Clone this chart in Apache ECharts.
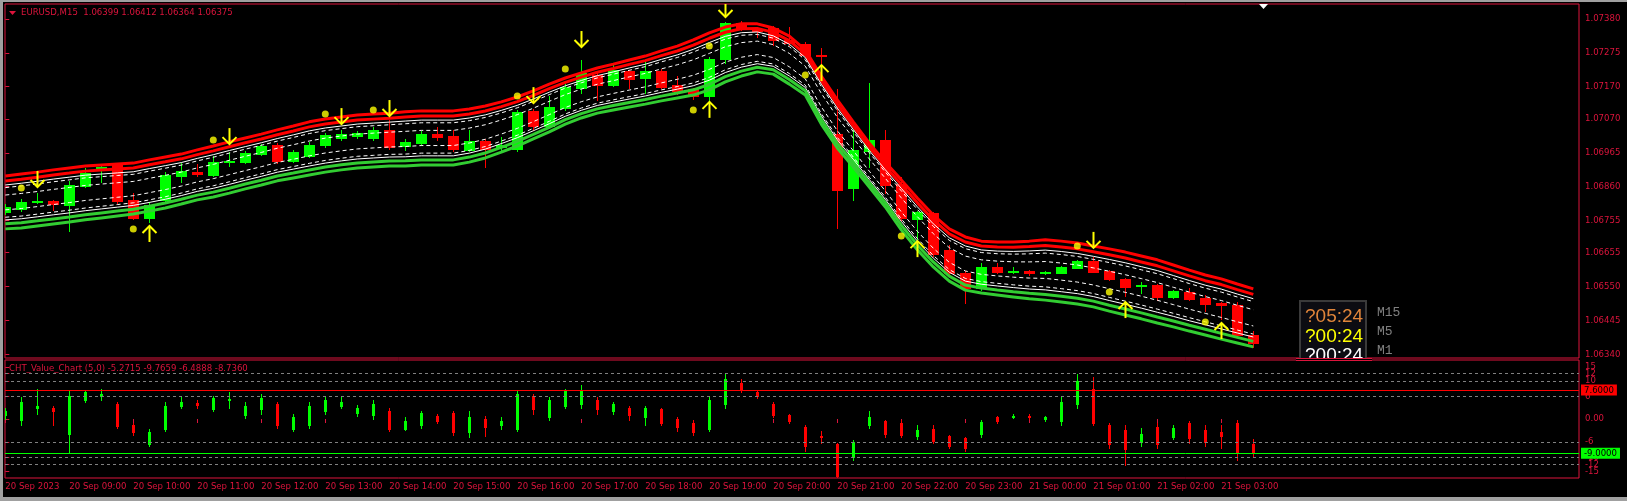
<!DOCTYPE html>
<html><head><meta charset="utf-8">
<script src="https://cdn.jsdelivr.net/npm/echarts@6/dist/echarts.min.js"></script>
<style>html,body{margin:0;padding:0;background:#000;}#c{width:1627px;height:501px;}</style>
</head><body><div id="c"></div>
<script>
const FONT = '"Liberation Sans Narrow","DejaVu Sans Condensed","Arial Narrow",Tahoma,"Liberation Sans",sans-serif';
const FS = 9.5;

// time axis ticks (candle index -> label)
const tickIndex = [0,4,8,12,16,20,24,28,32,36,40,44,48,52,56,60,64,68,72,76];
const tickLabels = ["20 Sep 2023","20 Sep 09:00","20 Sep 10:00","20 Sep 11:00","20 Sep 12:00","20 Sep 13:00","20 Sep 14:00","20 Sep 15:00","20 Sep 16:00","20 Sep 17:00","20 Sep 18:00","20 Sep 19:00","20 Sep 20:00","20 Sep 21:00","20 Sep 22:00","20 Sep 23:00","21 Sep 00:00","21 Sep 01:00","21 Sep 02:00","21 Sep 03:00"];

// price axis tick labels
const priceTicks = [1.07380,1.07275,1.07170,1.07070,1.06965,1.06860,1.06755,1.06655,1.06550,1.06445,1.06340];

// EURUSD M15 candles
const opens = [1.06782,1.06791,1.06811,1.06816,1.06803,1.06862,1.06913,1.06927,1.06819,1.06764,
1.06819,1.06894,1.06905,1.06896,1.06935,1.06937,1.06961,1.06989,1.06941,1.06955,
1.06989,1.07011,1.07017,1.07011,1.07037,1.06986,1.06994,1.07023,1.07017,1.06974,
1.07002,1.06983,1.06976,1.07096,1.07048,1.07103,1.07166,1.07206,1.07175,1.07219,
1.07196,1.07219,1.07175,1.07162,1.07141,1.07255,1.07368,1.07349,1.07352,1.07315,
1.07302,1.07268,1.07023,1.06855,1.06972,1.07005,1.06868,1.06759,1.06779,1.06664,
1.06591,1.06545,1.06612,1.06595,1.06598,1.06591,1.06593,1.06609,1.06629,1.06598,
1.06573,1.06551,1.06555,1.06519,1.06534,1.06516,1.06500,1.06493,1.06399];
const highs = [1.06806,1.06822,1.06841,1.06819,1.06878,1.06918,1.06927,1.06930,1.06841,1.06813,
1.06906,1.06933,1.06930,1.06955,1.06968,1.06971,1.06992,1.06995,1.06974,1.06999,
1.07026,1.07036,1.07033,1.07045,1.07067,1.07008,1.07033,1.07046,1.07036,1.07036,
1.07008,1.07015,1.07098,1.07101,1.07141,1.07178,1.07253,1.07212,1.07243,1.07222,
1.07248,1.07225,1.07203,1.07166,1.07262,1.07371,1.07374,1.07355,1.07358,1.07355,
1.07310,1.07290,1.07162,1.07036,1.07181,1.07036,1.06890,1.06784,1.06782,1.06679,
1.06598,1.06624,1.06622,1.06612,1.06601,1.06598,1.06614,1.06633,1.06643,1.06601,
1.06577,1.06565,1.06558,1.06539,1.06545,1.06524,1.06503,1.06503,1.06412];
const lows = [1.06775,1.06784,1.06808,1.06788,1.06722,1.06859,1.06875,1.06809,1.06760,1.06751,
1.06809,1.06875,1.06894,1.06893,1.06924,1.06933,1.06958,1.06933,1.06936,1.06952,
1.06983,1.07005,1.07011,1.07005,1.06977,1.06974,1.06989,1.07005,1.06972,1.06971,
1.06920,1.06968,1.06972,1.07036,1.07045,1.07098,1.07151,1.07129,1.07172,1.07165,
1.07151,1.07166,1.07147,1.07132,1.07129,1.07243,1.07346,1.07324,1.07299,1.07299,
1.07262,1.07244,1.06731,1.06819,1.06920,1.06839,1.06757,1.06695,1.06645,1.06583,
1.06500,1.06539,1.06592,1.06591,1.06586,1.06589,1.06592,1.06608,1.06595,1.06570,
1.06521,1.06531,1.06508,1.06516,1.06508,1.06475,1.06450,1.06397,1.06364];
const closes = [1.06798,1.06813,1.06816,1.06807,1.06865,1.06901,1.06921,1.06816,1.06764,1.06803,
1.06896,1.06909,1.06899,1.06936,1.06940,1.06963,1.06986,1.06940,1.06967,1.06989,
1.07020,1.07023,1.07026,1.07037,1.06982,1.06999,1.07023,1.07013,1.06976,1.07003,
1.06976,1.06988,1.07092,1.07048,1.07108,1.07170,1.07212,1.07175,1.07222,1.07194,
1.07219,1.07170,1.07158,1.07142,1.07255,1.07367,1.07352,1.07343,1.07315,1.07306,
1.07268,1.07264,1.06850,1.06974,1.07005,1.06865,1.06762,1.06780,1.06651,1.06591,
1.06545,1.06612,1.06594,1.06598,1.06593,1.06596,1.06612,1.06629,1.06596,1.06573,
1.06550,1.06555,1.06519,1.06536,1.06512,1.06496,1.06492,1.06400,1.06375];

// channel envelope (outer red / outer green line values)
const bandUpper = [1.06893,1.06899,1.06905,1.06912,1.06918,1.06924,1.06927,1.06930,1.06933,1.06943,
1.06952,1.06961,1.06974,1.06986,1.06999,1.07011,1.07023,1.07036,1.07048,1.07061,
1.07070,1.07076,1.07082,1.07085,1.07088,1.07092,1.07095,1.07095,1.07095,1.07101,
1.07110,1.07123,1.07138,1.07157,1.07178,1.07197,1.07213,1.07228,1.07240,1.07253,
1.07265,1.07281,1.07296,1.07315,1.07337,1.07355,1.07365,1.07365,1.07352,1.07327,
1.07284,1.07203,1.07129,1.07061,1.06995,1.06936,1.06881,1.06825,1.06772,1.06729,
1.06704,1.06691,1.06688,1.06688,1.06691,1.06695,1.06691,1.06685,1.06676,1.06667,
1.06657,1.06645,1.06633,1.06617,1.06601,1.06586,1.06574,1.06558,1.06543];
const bandLower = [1.06729,1.06732,1.06738,1.06744,1.06750,1.06757,1.06763,1.06769,1.06775,1.06784,
1.06794,1.06806,1.06819,1.06828,1.06840,1.06853,1.06865,1.06878,1.06887,1.06896,
1.06905,1.06912,1.06918,1.06921,1.06924,1.06924,1.06927,1.06927,1.06927,1.06936,
1.06949,1.06967,1.06986,1.07008,1.07030,1.07054,1.07073,1.07088,1.07098,1.07107,
1.07116,1.07126,1.07135,1.07144,1.07160,1.07185,1.07203,1.07216,1.07209,1.07178,
1.07144,1.07054,1.06980,1.06921,1.06859,1.06797,1.06726,1.06664,1.06611,1.06567,
1.06539,1.06530,1.06524,1.06518,1.06512,1.06508,1.06502,1.06496,1.06487,1.06474,
1.06462,1.06450,1.06437,1.06425,1.06412,1.06400,1.06387,1.06375,1.06363];
// channel lines: [fraction from upper to lower, colour, width, dashed]
const bandLines = [[0,'#ff0000',3,false],[0.095,'#ff0000',3,false],[0.17,'#ffffff',1,false],[0.22,'#ffffff',1,true],
[0.36,'#ffffff',1,true],[0.64,'#ffffff',1,true],[0.78,'#ffffff',1,true],[0.83,'#ffffff',1,false],
[0.905,'#32cd32',3,false],[1,'#32cd32',3,false]];

// signals
const dotIdx = [1,8,13,20,23,32,35,43,44,50,56,67,69,75];
const dotPrice = [1.06856,1.06729,1.07005,1.07085,1.07098,1.07141,1.07225,1.07098,1.07296,1.07206,1.06707,1.06676,1.06533,1.06440];
const arrowIdx = [2,9,14,21,24,33,36,44,45,51,57,68,70,76];
const arrowPrice = [1.06859,1.06738,1.06992,1.07054,1.07079,1.07119,1.07293,1.07123,1.07386,1.07237,1.06691,1.06670,1.06502,1.06437];
const arrowDir = [-1,1,-1,-1,-1,-1,-1,1,-1,1,1,-1,1,1];

// CHT_Value_Chart (5,0)
const vcOpen = [1,-0.2,2.9,3.0,-4,5,6,4,-1.5,-6.5, -2.5,3.5,4.2,2.5,5,1,2.5,4,-2.5,-1.5, 2,3.5,1.5,1,2,-2.5,-1.5,0.8,1.5,-3.5,
0,-1.5,-2.5,6,0.5,3.5,4,5,2,3, 0.5,2.5,0,-1,-2.5,4,9.5,7,4,1, -2,-4.5,-6.5,-10,-1.5,-0.5,-1,-4.5,-2.5,-4.5,
-5,-4,0.5,0.6,0.9,0,-0.5,4,8,-1.5, -3,-6,-2,-4.8,-1,-3,-3.5,-1,-6.4888];
const vcHigh = [3,5.9,8.0,3.5,7.4,7.4,8.0,4.4,-1.1,-2.6, 4.4,5.9,5.0,6,7,4.4,6.5,4.4,1.4,4.4, 5.9,5.9,3.8,5,2.9,0.5,2.0,1.4,2.0,2.0,
0.8,0.5,7.4,6.5,5.9,8.0,8.9,5.9,4.4,3.5, 3.5,2.9,0.5,-0.2,5.9,11.9,10.4,7.4,4.4,1.4, -1.7,-3.2,-6.2,-5.6,2.0,-0.2,-0.2,-1.7,-1.7,-4.1,
-4.7,-0.2,0.8,1.4,1.2,0.8,5.9,11.9,11,-1.1, -1.7,-2.3,-1.1,-1.7,-0.5,-1.7,-1.7,-0.2,-5.2715];
const vcLow = [0,-1.7,1.4,-1.5,-8.6,4.4,5.0,-2.3,-4.1,-7.1, -3.2,2.9,2.9,2,3,0.2,1.4,-2.3,-3.2,-2.3, 1.4,2.9,0.8,0,-3.2,-3,-2.3,-1.1,-4.1,-4.7,
-4.5,-2.5,-3.2,1.4,-0.2,2.9,2.9,1.4,1.4,-0.2, -1.7,-1.7,-3.2,-4.1,-3.2,2.9,7.0,5.5,0.5,-1.1, -8.3,-6.2,-17.3,-10.7,-2.3,-4.7,-4.7,-5.3,-6.2,-7.7,
-8.3,-4.7,-1.1,0.2,0.0,-0.5,-1.7,2.9,-1.7,-7.7, -12.2,-7.1,-7.7,-5.3,-6.2,-7.1,-7.7,-10.7,-9.7659];
const vcClose = [2,4.4,3.5,2.0,6,7,6.5,-1.8,-3.5,-3.5, 3.5,4.5,3.8,5.5,5.2,3.5,5.5,-1.5,0.5,3.5, 5,4.5,3.0,4,-2.5,-0.5,1.5,-0.5,-3.5,0.5,
-2,-0.5,6.5,2.5,5,7.5,7.5,2.5,4,1, 3,-1,-2,-3.5,5,10.5,8,6,1,-0.5, -7,-4.8,-15,-6,0.5,-4,-4.3,-3,-5.8,-7,
-7.5,-0.8,-0.5,0.9,0.5,0.4,4.5,10,-1,-6.5, -8,-4,-6.5,-2.3,-5,-6,-4.5,-9,-8.7360];
const vcLevels = [12,10,6,-6,-10,-12];
const vcUpperLevel = 7.6, vcLowerLevel = -9;
const vcTicks = [15,12,10,6,0,-6,-10,-12,-15];

const CRIM = '#dc143c';
const PMIN = 1.063285, PMAX = 1.074265;
const XMIN = -0.01875, XMAX = 98.35625;
const last = closes.length - 1;

const candleRows = opens.map((o,i)=>[i,o,highs[i],lows[i],closes[i]]);
const vcRows = vcOpen.map((o,i)=>[i,o,vcHigh[i],vcLow[i],vcClose[i]]);

function barRender(bodyW){
  return function(params, api){
    const k=api.value(0), o=api.value(1), h=api.value(2), l=api.value(3), c=api.value(4);
    const po=api.coord([k,o]), pc=api.coord([k,c]), ph=api.coord([k,h]), pl=api.coord([k,l]);
    const x=Math.round(po[0]);
    const col = c>=o ? '#00ff00' : '#ff0000';
    const top=Math.round(Math.min(po[1],pc[1])), bot=Math.round(Math.max(po[1],pc[1]));
    const yh=Math.round(ph[1]), yl=Math.round(pl[1]);
    const half=Math.floor(bodyW/2);
    return {type:'group', children:[
      {type:'rect', shape:{x:x, y:yh, width:1, height:Math.max(1,yl-yh+1)}, style:{fill:col}},
      {type:'rect', shape:{x:x-half, y:top, width:bodyW, height:Math.max(1,bot-top+1)}, style:{fill:col}}
    ]};
  };
}

function arrowRender(params, api){
  const p=api.coord([api.value(0),api.value(1)]);
  const s=api.value(2)>0?1:-1;
  const x=Math.round(p[0])+0.5, y=p[1];
  return {type:'group', children:[
    {type:'polyline', shape:{points:[[x-7,y+7*s],[x,y],[x+7,y+7*s]]}, style:{stroke:'#ffff00', lineWidth:2, fill:null}},
    {type:'line', shape:{x1:x,y1:y,x2:x,y2:y+16*s}, style:{stroke:'#ffff00', lineWidth:2}}
  ]};
}

const series = [];
series.push({type:'custom', name:'EURUSD', xAxisIndex:0, yAxisIndex:0, clip:true, z:2,
  renderItem:barRender(11), data:candleRows, encode:{x:0,y:[1,2,3,4]}});
bandLines.forEach(([f,col,w,dash])=>{
  series.push({type:'line', xAxisIndex:0, yAxisIndex:0, z:3, symbol:'none', showSymbol:false, silent:true,
    data: bandUpper.map((u,i)=>[i, u + f*(bandLower[i]-u)]),
    lineStyle:{color:col, width:w, type: dash ? [4,3] : 'solid'}});
});
series.push({type:'line', xAxisIndex:0, yAxisIndex:0, data:[], z:4, silent:true,
  markLine:{silent:true, symbol:['none','none'], animation:false,
    data:[{yAxis:closes[last], lineStyle:{color:'#ffffff', width:1, type:'solid'},
      label:{show:true, position:'end', distance:2, formatter:closes[last].toFixed(5), color:'#ffffff',
        backgroundColor:CRIM, padding:[1,3,0,3], fontFamily:FONT, fontSize:FS}}]}});
series.push({type:'scatter', xAxisIndex:0, yAxisIndex:0, z:5, symbolSize:7, silent:true,
  itemStyle:{color:'#ffff00'}, data: dotIdx.map((k,i)=>[k,dotPrice[i]])});
series.push({type:'custom', xAxisIndex:0, yAxisIndex:0, z:5, clip:true, silent:true,
  renderItem:arrowRender, data: arrowIdx.map((k,i)=>[k,arrowPrice[i],arrowDir[i]]), encode:{x:0,y:1}});

// lower pane
series.push({type:'custom', name:'CHT_Value_Chart', xAxisIndex:1, yAxisIndex:1, clip:true, z:3,
  renderItem:barRender(3), data:vcRows, encode:{x:0,y:[1,2,3,4]}});
const lvlData = vcLevels.map(v=>({yAxis:v, lineStyle:{color:'#808080', width:1, type:[3,3]}, label:{show:false}}));
lvlData.push({yAxis:vcUpperLevel, lineStyle:{color:'#ff0000', width:1, type:'solid'},
  label:{show:true, position:'end', distance:2, formatter:vcUpperLevel.toFixed(4), color:'#000', backgroundColor:'#ff0000', padding:[1,3,0,3], fontFamily:FONT, fontSize:FS}});
lvlData.push({yAxis:vcLowerLevel, lineStyle:{color:'#00ff00', width:1, type:'solid'},
  label:{show:true, position:'end', distance:2, formatter:vcLowerLevel.toFixed(4), color:'#000', backgroundColor:'#00ff00', padding:[1,3,0,3], fontFamily:FONT, fontSize:FS}});
series.push({type:'line', xAxisIndex:1, yAxisIndex:1, data:[], z:2, silent:true,
  markLine:{silent:true, symbol:['none','none'], animation:false, data:lvlData}});

// the +/-15 labels are pulled inside the pane, as the terminal does
const vcLabelPos = vcTicks.map(v => Math.abs(v)===15 ? Math.sign(v)*13.7 : v);

const axisText = {color:CRIM, fontFamily:FONT, fontSize:FS, hideOverlap:false, showMinLabel:true, showMaxLabel:true};
const option = {
  backgroundColor:'#000',
  animation:false,
  grid:[
    {left:5, right:48, top:4, height:354, show:true, borderColor:CRIM, borderWidth:1, backgroundColor:'transparent'},
    {left:5, right:48, top:360, height:118, show:true, borderColor:CRIM, borderWidth:1, backgroundColor:'transparent'}
  ],
  xAxis:[
    {type:'value', gridIndex:0, min:XMIN, max:XMAX, show:false},
    {type:'value', gridIndex:1, min:XMIN, max:XMAX, axisLine:{show:false}, splitLine:{show:false},
      axisTick:{show:true, customValues:tickIndex, length:4, lineStyle:{color:CRIM}},
      axisLabel:Object.assign({customValues:tickIndex, formatter:v=>tickLabels[tickIndex.indexOf(v)], align:'left', margin:4}, axisText)}
  ],
  yAxis:[
    {type:'value', gridIndex:0, position:'right', min:PMIN, max:PMAX, scale:true, axisLine:{show:false}, splitLine:{show:false},
      axisTick:{show:true, customValues:priceTicks, length:4, lineStyle:{color:CRIM}},
      axisLabel:Object.assign({customValues:priceTicks, formatter:v=>v.toFixed(5), margin:6}, axisText)},
    {type:'value', gridIndex:1, position:'right', min:-15.5, max:15.5, axisLine:{show:false}, splitLine:{show:false},
      axisTick:{show:true, customValues:vcLabelPos, length:4, lineStyle:{color:CRIM}},
      axisLabel:{show:false}}
  ],
  series:series,
  graphic:{elements:[
    {id:'g1', type:'rect', z:100, shape:{x:0,y:0,width:1627,height:2}, style:{fill:'#a0a0a0'}},
    {id:'g2', type:'rect', z:100, shape:{x:0,y:0,width:3,height:501}, style:{fill:'#a0a0a0'}},
    {id:'g3', type:'rect', z:100, shape:{x:0,y:497,width:1627,height:4}, style:{fill:'#a0a0a0'}},
    {id:'g4', type:'polygon', z:100, shape:{points:[[9,11],[16,11],[12.5,15]]}, style:{fill:CRIM}},
    {id:'g5', type:'text', z:100, style:{x:21, y:13, text:'EURUSD,M15  '+[opens[last],highs[last],lows[last],closes[last]].map(v=>v.toFixed(5)).join(' '),
      fill:CRIM, font:FS+'px '+FONT, verticalAlign:'middle', align:'left'}},
    {id:'g6', type:'polygon', z:100, shape:{points:[[1259,4],[1268,4],[1263.5,9]]}, style:{fill:'#ffffff'}},
    {id:'g7', type:'text', z:100, style:{x:9, y:369, text:'CHT_Value_Chart (5,0) '+[vcHigh[last],vcLow[last],vcOpen[last],vcClose[last]].map(v=>v.toFixed(4)).join(' '),
      fill:CRIM, font:FS+'px '+FONT, verticalAlign:'middle', align:'left'}},
    {id:'g8', type:'rect', z:101, shape:{x:1300,y:301,width:66,height:60}, style:{fill:'#0c0c12', stroke:'#3a3a3a', lineWidth:2}},
    {id:'g9', type:'text', z:102, style:{x:1305, y:317, text:'?05:24', fill:'#e0853a', font:'19px "Liberation Sans",Arial,sans-serif', verticalAlign:'middle'}},
    {id:'g10', type:'text', z:102, style:{x:1305, y:336.5, text:'?00:24', fill:'#ffff00', font:'19px "Liberation Sans",Arial,sans-serif', verticalAlign:'middle'}},
    {id:'g11', type:'text', z:102, style:{x:1305, y:356, text:'?00:24', fill:'#ffffff', font:'19px "Liberation Sans",Arial,sans-serif', verticalAlign:'middle'}},
    {id:'g12', type:'rect', z:103, shape:{x:1296,y:358.8,width:76,height:13}, style:{fill:'#000'}},
    {id:'g13', type:'line', z:104, shape:{x1:1296,y1:360.5,x2:1372,y2:360.5}, style:{stroke:CRIM, lineWidth:1}},
    {id:'g14', type:'line', z:104, shape:{x1:1296,y1:358.5,x2:1372,y2:358.5}, style:{stroke:CRIM, lineWidth:1}},
    {id:'g15', type:'text', z:102, style:{x:1377, y:313, text:'M15', fill:'#808080', font:'13px "Liberation Mono","DejaVu Sans Mono",monospace', verticalAlign:'middle'}},
    {id:'g16', type:'text', z:102, style:{x:1377, y:332, text:'M5', fill:'#808080', font:'13px "Liberation Mono","DejaVu Sans Mono",monospace', verticalAlign:'middle'}},
    {id:'g17', type:'text', z:102, style:{x:1377, y:351, text:'M1', fill:'#808080', font:'13px "Liberation Mono","DejaVu Sans Mono",monospace', verticalAlign:'middle'}}
  ]}
};
const chart = echarts.init(document.getElementById('c'), null, {renderer:'canvas', width:1627, height:501});
chart.setOption(option);
// lower pane scale labels, placed through the pane's own y scale (all shown, overlapping as in the terminal)
const xRight = chart.convertToPixel({xAxisIndex:1}, XMAX);
chart.setOption({graphic:{elements: vcTicks.map((t,i)=>({
  id:'vcl'+i, type:'text', z:5,
  style:{x:xRight+6, y:chart.convertToPixel({yAxisIndex:1}, vcLabelPos[i]), text: t===0?'0.00':String(t),
    fill:CRIM, font:FS+'px '+FONT, verticalAlign:'middle', align:'left'}
}))}});
</script></body></html>
